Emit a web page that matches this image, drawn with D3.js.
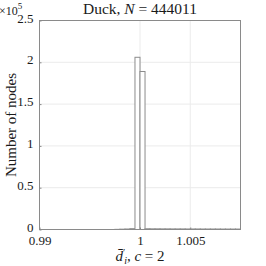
<!DOCTYPE html>
<html><head><meta charset="utf-8">
<script src="https://cdn.jsdelivr.net/npm/d3@7"></script>
<style>body{margin:0;background:#fff}svg{display:block}text{font-family:"Liberation Serif","DejaVu Serif",serif;fill:#1a1a1a}</style>
</head><body><svg id="c" width="266" height="266"></svg>
<script>
const binStart = [0.99,0.9905,0.991,0.9915,0.992,0.9925,0.993,0.9935,0.994,0.9945,0.995,0.9955,0.996,0.9965,0.997,0.9975,0.998,0.9985,0.999,0.9995,1.0,1.0005,1.001,1.0015,1.002,1.0025,1.003,1.0035,1.004,1.0045,1.005,1.0055,1.006,1.0065,1.007,1.0075,1.008,1.0085,1.009,1.0095];
const counts = [0,0,0,0,0,0,0,0,0,0,0,0,0,0,0,200,400,600,1000,206000,189000,900,800,800,750,750,700,700,700,650,650,650,600,600,600,600,550,550,550,550];
const binWidth = 0.0005;
const xTicks = [0.99,1,1.005];
const xTickLabels = ["0.99","1","1.005"];
const yTicks = [0,0.5,1,1.5,2,2.5];
const yTickLabels = ["0","0.5","1","1.5","2","2.5"];

const svg = d3.select("#c");
const L=39.5, R=240.5, T=20.5, B=229.5;
const x = d3.scaleLinear().domain([0.99,1.01]).range([L,R]);
const y = d3.scaleLinear().domain([0,2.5e5]).range([B,T]);
const FF = "'Liberation Serif','DejaVu Serif',serif";

// grid
svg.append("g").selectAll("line").data(xTicks.slice(1)).join("line")
 .attr("x1",d=>x(d)).attr("x2",d=>x(d)).attr("y1",T).attr("y2",B)
 .attr("stroke","#ebebeb").attr("stroke-width",1);
svg.append("g").selectAll("line").data(yTicks.slice(1,-1)).join("line")
 .attr("y1",d=>y(d*1e5)).attr("y2",d=>y(d*1e5)).attr("x1",L).attr("x2",R)
 .attr("stroke","#ebebeb").attr("stroke-width",1);

// bars
svg.append("g").selectAll("rect").data(binStart.map((b,i)=>({b,c:counts[i]}))).join("rect")
 .attr("x",d=>x(d.b)).attr("width",d=>x(d.b+binWidth)-x(d.b))
 .attr("y",d=>y(d.c)).attr("height",d=>y(0)-y(d.c))
 .attr("fill","#fff").attr("stroke","#8c8c8c").attr("stroke-width",1);

// axes box
svg.append("rect").attr("x",L).attr("y",T).attr("width",R-L).attr("height",B-T)
 .attr("fill","none").attr("stroke","#8a8a8a").attr("stroke-width",1);

// axes via d3
const xa = d3.axisBottom(x).tickValues(xTicks).tickFormat((d,i)=>xTickLabels[i]).tickSizeInner(-2).tickSizeOuter(0).tickPadding(6);
const gx = svg.append("g").attr("transform",`translate(0,${B})`).call(xa);
gx.attr("font-family",FF);
gx.select(".domain").remove();
gx.selectAll("line").attr("stroke","#8a8a8a");
gx.selectAll("text").attr("font-size","13px").style("font-family",FF).attr("fill","#1a1a1a");

const ya = d3.axisLeft(y).tickValues(yTicks.map(v=>v*1e5)).tickFormat((d,i)=>yTickLabels[i]).tickSizeInner(-2).tickSizeOuter(0).tickPadding(6);
const gy = svg.append("g").attr("transform",`translate(${L},0)`).call(ya);
gy.attr("font-family",FF);
gy.select(".domain").remove();
gy.selectAll("line").attr("stroke","#8a8a8a");
gy.selectAll("text").attr("font-size","13px").style("font-family",FF).attr("fill","#1a1a1a").attr("dy","0.12em");

// exponent
const ex = svg.append("text").attr("x",-1).attr("y",15).attr("font-size","12px");
ex.append("tspan").text("×10");
ex.append("tspan").attr("dy",-6).attr("font-size","9px").text("5");

// title
const t = svg.append("text").attr("x",(L+R)/2).attr("y",14).attr("text-anchor","middle").attr("font-size","15.5px");
t.append("tspan").text("Duck, ");
t.append("tspan").attr("font-style","italic").text("N");
t.append("tspan").text(" = 444011");

// y label
svg.append("text").attr("transform",`translate(16,${(T+B)/2}) rotate(-90)`).attr("text-anchor","middle").attr("font-size","15px").text("Number of nodes");

// x label
const xl = svg.append("text").attr("x",(L+R)/2).attr("y",261).attr("text-anchor","middle").attr("font-size","15px");
xl.append("tspan").attr("font-style","italic").text("d\u0304");
xl.append("tspan").attr("dy",-5).attr("font-size","10px").text("\u2032");
xl.append("tspan").attr("dy",8).attr("dx",-1).attr("font-size","10px").attr("font-style","italic").text("i");
xl.append("tspan").attr("dy",-3).text(", ");
xl.append("tspan").attr("font-style","italic").text("c");
xl.append("tspan").text(" = 2");
</script></body></html>
